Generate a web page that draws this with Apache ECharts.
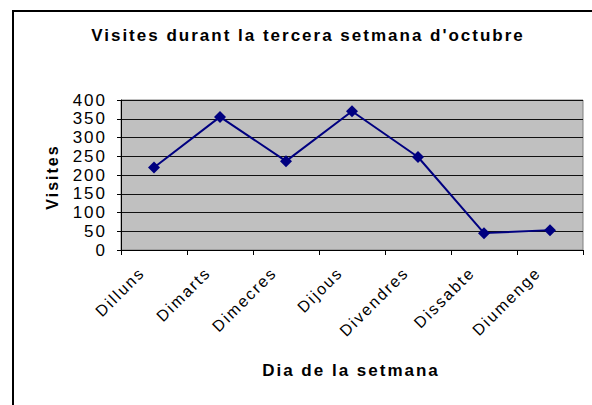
<!DOCTYPE html>
<html><head><meta charset="utf-8">
<script src="https://cdn.jsdelivr.net/npm/echarts@6/dist/echarts.min.js"></script>
<style>html,body{margin:0;padding:0;background:#fff}#c{width:592px;height:405px}
#c svg text{letter-spacing:2px}</style>
</head><body><div id="c"></div>
<script>
const categories = ["Dilluns","Dimarts","Dimecres","Dijous","Divendres","Dissabte","Diumenge"];
const visites = [220, 355, 237, 370, 248, 45, 53];
const yTicks = [0,50,100,150,200,250,300,350,400];
const titleText = "Visites durant la tercera setmana d'octubre";
const xName = "Dia de la setmana";
const yName = "Visites";

const chart = echarts.init(document.getElementById('c'), null, {renderer:'svg'});
const F = '"Liberation Sans", Arial, sans-serif';
chart.setOption({
  animation:false,
  backgroundColor:'#fff',
  title:{text:titleText, left:303, top:22, textAlign:'center',
    textStyle:{fontFamily:F, fontSize:17, fontWeight:'bold', color:'#000'}},
  graphic:[
    {type:'rect', shape:{x:13,y:11,width:700,height:600}, style:{fill:'none', stroke:'#000', lineWidth:2}, silent:true},
    {type:'text', style:{text:xName, x:351, y:370, textAlign:'center', textVerticalAlign:'middle', font:'bold 17px '+F, fill:'#000'}},
    {type:'text', style:{text:yName, x:0, y:0, textAlign:'center', textVerticalAlign:'middle', font:'bold 16px '+F, fill:'#000'}, x:52, y:177, rotation:Math.PI/2}
  ],
  grid:{left:121, right:9, top:100, bottom:155, show:true, backgroundColor:'#c0c0c0', borderColor:'#808080', borderWidth:1},
  xAxis:{type:'category', data:categories, boundaryGap:true,
    axisLine:{lineStyle:{color:'#000', width:1}},
    axisTick:{show:true, alignWithLabel:false, length:5, lineStyle:{color:'#000'}},
    axisLabel:{rotate:45, margin:8, padding:[0,17,0,0], fontFamily:F, fontSize:16, color:'#000', interval:0}},
  yAxis:{type:'value', min:0, max:400, interval:50,
    axisLine:{show:true, lineStyle:{color:'#000', width:1}},
    axisTick:{show:true, length:4, lineStyle:{color:'#000'}},
    axisLabel:{margin:14, fontFamily:F, fontSize:17, color:'#000',
      formatter:(v)=> yTicks.includes(v) ? String(v) : ''},
    splitLine:{show:true, lineStyle:{color:'#111', width:1}}},
  series:[{type:'line', data:visites, symbol:'diamond', symbolSize:12,
    lineStyle:{color:'#000080', width:2}, itemStyle:{color:'#000080'}}]
});
</script></body></html>
